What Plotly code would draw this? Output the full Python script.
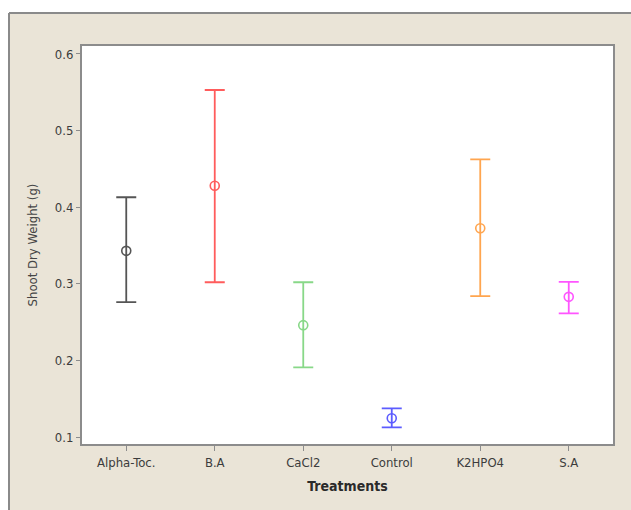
import plotly.graph_objects as go

treatments = ["Alpha-Toc.", "B.A", "CaCl2", "Control", "K2HPO4", "S.A"]
means = [0.343, 0.428, 0.246, 0.1245, 0.3725, 0.283]
upper = [0.413, 0.553, 0.302, 0.1375, 0.4625, 0.3025]
lower = [0.276, 0.302, 0.191, 0.1125, 0.284, 0.2615]
colors = ["#555555", "#FF5C5C", "#88D888", "#5C5CFF", "#FFA54F", "#FF55FF"]
yticks = [0.1, 0.2, 0.3, 0.4, 0.5, 0.6]

W, H = 631, 510
L, R, T, B = 82, 18, 46, 66
pw, ph = W - L - R, H - T - B

fig = go.Figure()
for i, t in enumerate(treatments):
    fig.add_trace(go.Scatter(
        x=[t], y=[means[i]],
        mode="markers",
        marker=dict(symbol="circle-open", size=9, color=colors[i], line=dict(width=1.6, color=colors[i])),
        error_y=dict(type="data", symmetric=False,
                     array=[upper[i] - means[i]], arrayminus=[means[i] - lower[i]],
                     color=colors[i], thickness=1.8, width=10),
        showlegend=False,
    ))

font_fam = "DejaVu Sans Condensed, DejaVu Sans, sans-serif"
fig.update_layout(
    width=W, height=H,
    margin=dict(l=L, r=R, t=T, b=B, pad=0),
    paper_bgcolor="#EAE4D7",
    plot_bgcolor="white",
    font=dict(family=font_fam, size=13, color="#505050"),
    xaxis=dict(
        type="category", categoryorder="array", categoryarray=treatments,
        range=[-0.5, 5.5],
        showline=True, linecolor="#8C8C8C", linewidth=2, mirror=True,
        showgrid=False, zeroline=False,
        ticks="outside", ticklen=5, tickcolor="#8C8C8C", tickwidth=1,
        tickfont=dict(size=13, color="#3C3C3C"),
        title=dict(text="<b>Treatments</b>", font=dict(size=14, color="#2A2A2A"), standoff=13),
    ),
    yaxis=dict(
        range=[0.0909, 0.6104],
        tickvals=yticks, ticktext=[f"{v:.1f}" for v in yticks],
        showline=True, linecolor="#8C8C8C", linewidth=2, mirror=True,
        showgrid=False, zeroline=False,
        ticks="outside", ticklen=4, tickcolor="#8C8C8C", tickwidth=1,
        tickfont=dict(size=13, color="#3C3C3C"),
        title=dict(text="Shoot Dry Weight (g)", font=dict(size=13, color="#454545"), standoff=14),
    ),
    shapes=[
        dict(type="rect", xref="paper", yref="paper",
             x0=-L / pw, x1=(9 - L) / pw, y0=-B / ph - 0.05, y1=(H - 0) / ph,
             fillcolor="white", line=dict(width=0), layer="below"),
        dict(type="rect", xref="paper", yref="paper",
             x0=-L / pw, x1=1 + R / pw + 0.05, y0=(H - B - 13) / ph, y1=(H - B) / ph + 0.05,
             fillcolor="white", line=dict(width=0), layer="below"),
        dict(type="line", xref="paper", yref="paper",
             x0=(9 - L) / pw, x1=(9 - L) / pw, y0=-B / ph - 0.05, y1=(H - B - 13) / ph,
             line=dict(color="#8A8A8A", width=2), layer="below"),
        dict(type="line", xref="paper", yref="paper",
             x0=(9 - L) / pw, x1=1 + R / pw + 0.05, y0=(H - B - 13) / ph, y1=(H - B - 13) / ph,
             line=dict(color="#8A8A8A", width=2), layer="below"),
    ],
)

fig.write_html("out.html")
